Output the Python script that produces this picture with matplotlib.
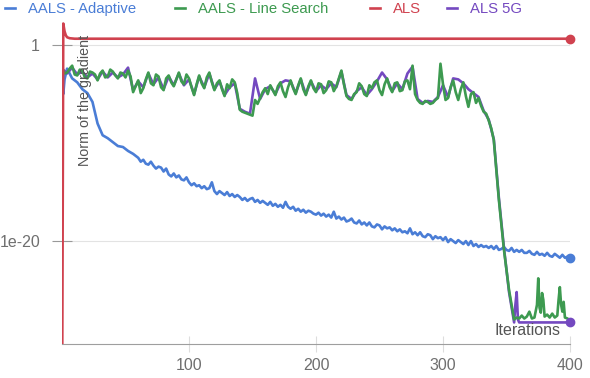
import numpy as np
import matplotlib
matplotlib.use('Agg')
import matplotlib.pyplot as plt
from matplotlib.ticker import FixedLocator, FixedFormatter

plt.rcParams['font.family'] = ['Liberation Sans', 'DejaVu Sans']

# series names and colours
labels = ['AALS - Adaptive', 'AALS - Line Search', 'ALS', 'ALS 5G']
colors = ['#4a7dd6', '#3d9a50', '#d0424f', '#7449c0']

# values as log10 of the gradient norm
adaptive_it = [0, 1, 2, 4, 6, 8, 12, 16, 20, 24, 28, 32, 36, 40, 44, 48, 52, 56] \
    + list(range(60, 401, 2))
adaptive_log = [0.3, -5.0, -3.5, -2.4, -2.9, -3.4, -3.8, -4.5, -4.9, -5.8, -8.0, -9.2,
                -9.5, -9.9, -10.3, -10.4, -10.8, -11.1,
                -11.5, -11.9, -11.7, -12.1, -12.2, -11.9, -12.3, -12.6, -12.4, -12.5,
                -12.9, -12.6, -13.2, -13.4, -13.1, -13.5, -13.3, -13.7, -13.8, -13.5,
                -14.0, -14.3, -14.1, -14.4, -14.3, -14.6, -14.4, -14.7, -14.6, -14.0,
                -14.9, -15.2, -14.9, -15.1, -15.3, -15.0, -15.4, -15.2, -15.5, -15.3,
                -15.5, -15.8, -15.6, -15.9, -15.7, -15.6, -16.0, -15.8, -16.1, -15.9,
                -16.1, -16.3, -16.0, -16.4, -16.2, -16.5, -16.3, -16.6, -16.0, -16.5,
                -16.7, -16.5, -16.9, -16.7, -17.0, -16.8, -17.1, -16.9, -17.0, -17.2,
                -17.3, -17.1, -17.4, -17.2, -17.5, -17.3, -17.6, -17.0, -17.7, -17.5,
                -17.8, -17.6, -18.0, -17.9, -17.7, -18.1, -18.2, -17.9, -18.3, -18.1,
                -18.4, -18.1, -18.5, -18.6, -18.3, -18.4, -18.8, -18.5, -18.7, -18.6,
                -18.9, -18.7, -19.0, -18.8, -19.1, -19.0, -19.2, -18.7, -19.3, -19.1,
                -19.4, -19.1, -19.5, -19.6, -19.3, -19.4, -19.8, -19.5, -19.7, -19.6,
                -19.9, -19.6, -20.1, -19.8, -20.0, -20.2, -19.9, -20.1, -20.3, -20.0,
                -20.4, -20.0, -20.5, -20.3, -20.6, -20.4, -20.6, -20.5, -20.7, -20.5,
                -20.8, -20.5, -20.9, -20.8, -20.6, -20.9, -21.0, -20.7, -21.1, -20.9,
                -21.1, -20.9, -21.2, -21.2, -21.0, -21.3, -21.4, -21.1, -21.4, -21.3,
                -21.5, -21.2, -21.5, -21.6, -21.3, -21.5, -21.7, -21.4, -21.7, -21.6,
                -21.7]

search_it = list(range(0, 341, 2)) + [344, 348, 352, 356, 358, 360, 362, 364, 366,
                                      368, 370, 372, 374, 375, 376, 377, 378, 379, 380,
                                      382, 384, 386, 388, 390, 391, 392, 393, 394, 395,
                                      396, 398, 400]
search_log = [-2.3, -2.9, -2.8, -2.4, -2.1, -3.0, -3.1, -2.5, -2.6, -3.3,
              -3.4, -2.7, -2.8, -3.0, -3.6, -2.9, -2.6, -3.3, -3.2, -2.5,
              -2.7, -3.1, -3.4, -2.8, -2.9, -3.3, -2.6, -3.2, -4.8, -4.2,
              -3.6, -4.9, -4.4, -3.5, -2.8, -3.9, -4.1, -3.0, -3.2, -4.3,
              -4.6, -3.4, -3.1, -3.8, -4.2, -3.5, -2.8, -3.7, -4.0, -3.0,
              -3.4, -4.3, -5.1, -4.0, -3.1, -3.9, -4.4, -3.3, -2.8, -3.8,
              -4.6, -3.9, -3.6, -4.5, -5.2, -4.0, -4.4, -3.5, -3.8, -4.9,
              -6.6, -6.8, -6.9, -7.0, -7.1, -7.2, -5.6, -6.0, -5.4, -4.8,
              -4.4, -5.0, -4.1, -4.6, -5.1, -4.2, -3.8, -4.7, -5.3, -4.3,
              -3.6, -4.4, -5.0, -4.1, -3.4, -4.5, -5.1, -4.2, -3.6, -4.4,
              -4.8, -3.9, -4.0, -4.9, -4.6, -3.7, -3.8, -4.7, -4.2, -3.4,
              -2.6, -4.0, -5.2, -5.5, -5.6, -5.0, -4.8, -3.9, -4.2, -5.0,
              -5.2, -4.1, -4.4, -3.8, -3.6, -4.6, -5.1, -4.0, -3.4, -4.3,
              -4.8, -3.9, -3.8, -4.7, -4.6, -3.7, -3.6, -4.5, -2.1, -5.0,
              -5.6, -5.9, -6.0, -5.7, -5.8, -6.0, -5.9, -5.6, -5.4, -1.9,
              -4.0, -5.6, -5.4, -4.3, -3.6, -4.8, -5.6, -4.5, -3.8, -5.2,
              -6.3, -5.0, -4.8, -5.9, -5.4, -6.2, -6.8, -7.0, -7.7, -8.5,
              -9.7,
              -15.8, -20.9, -25.0, -28.0, -27.8, -27.9, -27.6, -27.9, -27.7,
              -27.2, -27.9, -27.8, -26.5, -23.8, -26.8, -27.3, -25.3, -26.0, -27.7,
              -27.5, -27.8, -27.4, -27.8, -27.6, -26.0, -24.7, -26.5, -27.2, -26.2,
              -27.8, -27.9, -28.1]

als_it = [0, 1, 2, 3, 4, 6, 10, 400]
als_log = [-40.0, 2.2, 1.4, 1.0, 0.8, 0.7, 0.65, 0.65]

als5g_it = list(range(0, 357, 4)) + [357, 358, 359, 360, 400]
als5g_log = [-2.4, -2.9, -2.3, -3.0, -2.7, -3.3, -2.9, -3.5, -2.7, -3.3, -2.8, -3.3,
             -3.0, -2.3, -4.6, -3.7, -4.3, -2.9, -4.0, -3.3, -4.5, -3.2, -4.1, -2.9,
             -4.1, -3.5, -5.0, -3.2, -4.3, -2.9, -4.5, -3.7, -5.1, -4.3, -3.9, -6.5,
             -6.8, -7.0, -3.4, -5.5, -4.5, -4.2, -5.0, -3.9, -3.6, -3.7, -4.9, -3.5,
             -5.0, -3.7, -4.7, -4.1, -4.5, -3.9, -4.3, -2.7, -5.1, -5.5, -4.7, -4.3,
             -5.1, -4.5, -3.7, -2.8, -3.5, -4.7, -3.9, -4.5, -2.9, -2.2, -5.5, -5.9,
             -5.7, -5.8, -5.3, -4.1, -5.3, -3.4, -3.5, -3.9, -4.5, -4.9, -5.3, -6.7,
             -7.6, -9.6, -15.6, -20.7, -25.2, -28.3, -26.5, -25.2, -28.0, -28.3, -28.3]

xs = [adaptive_it, search_it, als_it, als5g_it]
ys = [adaptive_log, search_log, als_log, als5g_log]
zorders = [3, 5, 6, 4]  # purple sits under green, only its peaks show

fig = plt.figure(figsize=(5.9, 3.78), dpi=100)
ax = fig.add_axes([62 / 590, 34 / 378, 508 / 590, 324 / 378])

lines = []
for i in range(4):
    vals = 10 ** np.array(ys[i])
    ln, = ax.plot(xs[i], vals, color=colors[i], lw=1.9, zorder=zorders[i])
    lines.append(ln)
for i in [0, 3, 2]:
    ax.plot(xs[i][-1], 10 ** ys[i][-1], 'o', color=colors[i], ms=6,
            clip_on=False, zorder=7)

ax.set_yscale('log')
ax.set_xlim(0, 400)
ax.set_ylim(10 ** -30.5, 10 ** 2.56)

ax.xaxis.set_major_locator(FixedLocator([100, 200, 300, 400]))
ax.yaxis.set_major_locator(FixedLocator([1, 1e-20]))
ax.yaxis.set_major_formatter(FixedFormatter(['1', '1e-20']))
ax.yaxis.set_minor_locator(FixedLocator([]))
ax.tick_params(axis='y', direction='inout', length=14.4, width=0.8,
               color='#999999', labelcolor='#6f6f6f', labelsize=11.5, pad=8.6)
ax.tick_params(axis='x', direction='inout', length=12, width=0.8,
               color='#dddddd', labelcolor='#6f6f6f', labelsize=11.5, pad=4)
ax.grid(axis='y', color='#e3e3e3', lw=0.8)

for s in ['top', 'right', 'left']:
    ax.spines[s].set_visible(False)
ax.spines['bottom'].set_color('#9e9e9e')

fig.text(85 / 590, 1 - 35 / 378, 'Norm of the gradient', rotation=90,
         ha='center', va='top', fontsize=10.3, color='#555555')
fig.text(560 / 590, 1 - 335 / 378, 'Iterations', ha='right', va='baseline',
         fontsize=11.5, color='#555555')

legend_x = [5, 175, 370, 447]
for i in range(4):
    fig.legend([lines[i]], [labels[i]], loc='upper left',
               bbox_to_anchor=(legend_x[i] / 590, 1 - 2 / 378), frameon=False,
               fontsize=10.7, handlelength=0.68, handletextpad=0.88,
               borderpad=0, borderaxespad=0, labelcolor='linecolor')

fig.savefig('out.png', dpi=100)
